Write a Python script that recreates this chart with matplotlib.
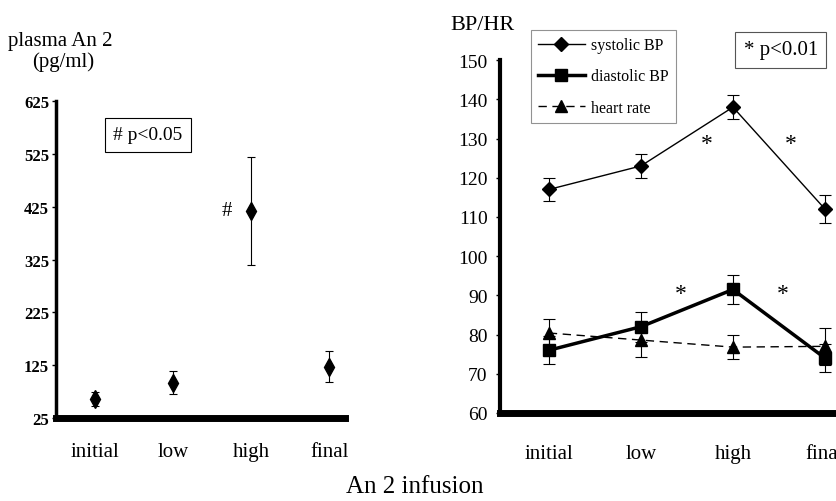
import matplotlib
matplotlib.use('Agg')
import matplotlib.pyplot as plt
import numpy as np

plt.rcParams['font.family'] = ['Liberation Serif', 'DejaVu Serif']

# data
stages = ['initial', 'low', 'high', 'final']
an2 = [61, 92, 417, 122]
an2_err = [14, 22, 102, 29]

sys_bp = [117, 123, 138, 112]
sys_err = [3, 3, 3, 3.5]
dia_bp = [76, 82, 91.5, 74]
dia_err = [3.6, 3.8, 3.8, 3.6]
hr = [80.4, 78.6, 76.8, 77]
hr_err = [3.5, 4.4, 3, 4.8]

x = np.arange(len(stages))

fig = plt.figure(figsize=(8.37, 5.02), dpi=100)

# left panel: plasma An 2
ax1 = fig.add_axes([0.0669, 0.1653, 0.345, 0.6315])
ax1.errorbar(x, an2, yerr=an2_err, fmt='d', color='black', markersize=9,
             ecolor='black', elinewidth=0.8, capsize=3, capthick=0.8)
ax1.set_xlim(-0.5, 3.2)
ax1.set_ylim(25, 625)
ax1.set_yticks(np.arange(25, 626, 100))
ax1.set_xticks(x)
ax1.set_xticklabels(stages, fontsize=15)
for s in ['top', 'right']:
    ax1.spines[s].set_visible(False)
ax1.spines['left'].set_linewidth(2.5)
ax1.spines['bottom'].set_linewidth(5)
ax1.tick_params(axis='x', length=0, pad=17)
ax1.tick_params(axis='y', length=3, width=1, pad=2)
for t in ax1.get_yticklabels():
    t.set_fontweight('bold')
    t.set_fontsize(12)
ax1.text(1.69, 417, '#', fontsize=15, ha='center', va='center')
ax1.text(0.68, 561, '# p<0.05', fontsize=14, ha='center', va='center',
         bbox=dict(boxstyle='square,pad=0.45', fc='white', ec='black', lw=0.8))

fig.text(0.010, 0.908, 'plasma An 2', fontsize=15, ha='left', va='baseline')
fig.text(0.038, 0.866, '(pg/ml)', fontsize=15, ha='left', va='baseline')

# right panel: BP / HR
ax2 = fig.add_axes([0.5974, 0.1753, 0.4026, 0.703])
ax2.errorbar(x, sys_bp, yerr=sys_err, fmt='none', ecolor='black',
             elinewidth=0.8, capsize=4, capthick=0.8)
ax2.errorbar(x, dia_bp, yerr=dia_err, fmt='none', ecolor='black',
             elinewidth=0.8, capsize=4, capthick=0.8)
ax2.errorbar(x, hr, yerr=hr_err, fmt='none', ecolor='black',
             elinewidth=0.8, capsize=4, capthick=0.8)
ax2.plot(x, sys_bp, '-', marker='D', color='black', lw=1.0, markersize=7,
         label='systolic BP')
ax2.plot(x, dia_bp, '-', marker='s', color='black', lw=2.5, markersize=8,
         label='diastolic BP')
ax2.plot(x, hr, '--', marker='^', color='black', lw=1.0, markersize=9,
         dashes=(6, 4), label='heart rate')
ax2.set_xlim(-0.53, 3.13)
ax2.set_ylim(60, 150)
ax2.set_yticks(np.arange(60, 151, 10))
ax2.set_xticks(x)
ax2.set_xticklabels(stages, fontsize=15)
for s in ['top', 'right']:
    ax2.spines[s].set_visible(False)
ax2.spines['left'].set_linewidth(3)
ax2.spines['bottom'].set_linewidth(5)
ax2.tick_params(axis='x', length=0, pad=22)
ax2.tick_params(axis='y', length=3, width=1, labelsize=14, pad=6)

# significance stars
for xs, ys in [(1.72, 128.8), (2.63, 128.8), (1.43, 90.5), (2.54, 90.5)]:
    ax2.text(xs, ys, '*', fontsize=17, ha='center', va='center')

leg = ax2.legend(loc='upper left', bbox_to_anchor=(0.092, 1.085), fontsize=11.5,
                 frameon=True, fancybox=False, edgecolor='#777777',
                 handlelength=2.9, handletextpad=0.4, labelspacing=0.95,
                 borderpad=0.45, borderaxespad=0)
leg.get_frame().set_linewidth(0.8)

ax2.text(2.52, 152.6, '* p<0.01', fontsize=15, ha='center', va='center',
         bbox=dict(boxstyle='square,pad=0.4', fc='white', ec='#555555', lw=0.8))

fig.text(0.538, 0.94, 'BP/HR', fontsize=16, ha='left', va='baseline')
fig.text(0.495, 0.018, 'An 2 infusion', fontsize=18, ha='center', va='baseline')

fig.savefig('out.png', dpi=100)
